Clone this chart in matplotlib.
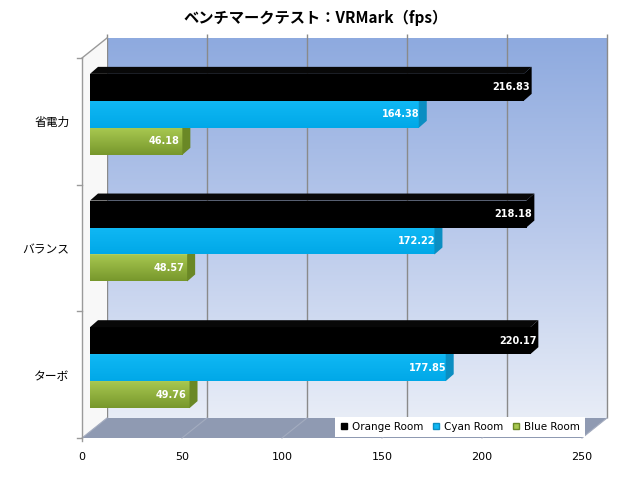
# coding=utf-8
import numpy as np
import matplotlib.pyplot as plt
from matplotlib.patches import Polygon
from matplotlib.lines import Line2D
from matplotlib.transforms import ScaledTranslation, IdentityTransform
from matplotlib.colors import LinearSegmentedColormap

# data (bottom to top in the plot)
categories = ['ターボ', 'バランス', '省電力']
series = ['Orange Room', 'Cyan Room', 'Blue Room']
orange_room = [220.17, 218.18, 216.83]
cyan_room = [177.85, 172.22, 164.38]
blue_room = [49.76, 48.57, 46.18]
xticks = [0, 50, 100, 150, 200, 250]

jp = ['Noto Sans CJK JP', 'DejaVu Sans']
plt.rcParams['font.family'] = ['DejaVu Sans']

fig = plt.figure(figsize=(6.2, 4.8), dpi=100)
ax = fig.add_axes([82/620, 42/480, 500/620, 380/480])
ax.patch.set_visible(False)
for s in ax.spines.values():
    s.set_visible(False)

XMAX = 250
YLO, YHI = -0.5, 2.5
BACK = (25, 20)      # depth of the box, px
BAR_OFF = (8, 7)     # bar plane, px
BAR_D = (8, 7)       # depth of each bar, px
h = 0.213

def shift(dx, dy):
    return ax.transData + ScaledTranslation(dx/fig.dpi, dy/fig.dpi, fig.dpi_scale_trans)

ax.set_xlim(0, XMAX)
ax.set_ylim(YLO, YHI)

def pt(x, y, dx=0, dy=0):
    px, py = ax.transData.transform((x, y))
    return (px + dx, py + dy)

def poly(pts, **kw):
    p = Polygon(pts, closed=True, transform=IdentityTransform(), clip_on=False, **kw)
    ax.add_patch(p)
    return p

def line(p0, p1, **kw):
    ax.add_line(Line2D([p0[0], p1[0]], [p0[1], p1[1]], transform=IdentityTransform(),
                       clip_on=False, **kw))

# back wall
back = shift(*BACK)
wall_cmap = LinearSegmentedColormap.from_list('wall', ['#e8edf7', '#b9c9eb', '#8eaadf'])
grad = np.linspace(0, 1, 256).reshape(-1, 1)
ax.imshow(grad, extent=(0, XMAX, YLO, YHI), origin='lower', aspect='auto', cmap=wall_cmap,
          transform=back, clip_on=False, zorder=0, interpolation='bilinear')
ax.vlines(xticks, YLO, YHI + 0.035, colors='#8a8a8a', lw=1, transform=back, clip_on=False, zorder=1)

# side wall
poly([pt(0, YLO), pt(0, YHI), pt(0, YHI, *BACK), pt(0, YLO, *BACK)],
     facecolor='#f8f8f8', edgecolor='none', zorder=1)
line(pt(0, YLO, 0, -3), pt(0, YHI), color='#9a9a9a', lw=1, zorder=2)
line(pt(0, YHI), pt(0, YHI, *BACK), color='#9a9a9a', lw=1, zorder=2)
for b in [-0.5, 0.5, 1.5, 2.5]:
    line(pt(0, b, -5, 0), pt(0, b), color='#9a9a9a', lw=1, zorder=2)

# floor
poly([pt(0, YLO), pt(XMAX, YLO), pt(XMAX, YLO, *BACK), pt(0, YLO, *BACK)],
     facecolor='#8f9ab2', edgecolor='none', zorder=1)
for x in xticks:
    line(pt(x, YLO), pt(x, YLO, *BACK), color='#a4acbf', lw=0.8, zorder=1.5)

# bars
bar_tr = shift(*BAR_OFF)
ypos = np.arange(len(categories))
styles = [
    # values, offset, front top, front bottom, top face, side face, label shift
    (blue_room, -h, '#a8c850', '#77972c', '#b9d66c', '#6a8826', -3),
    (cyan_room, 0.0, '#10b8f4', '#00a8e8', '#45c8f6', '#0b8ec2', 1),
    (orange_room, h, '#000000', '#000000', '#080808', '#000000', 6),
]
for k, (vals, off, ctop, cbot, ctopface, cside, lab) in enumerate(styles):
    z = 3 + k
    ys = ypos + off
    ax.barh(ys, vals, height=h, color=cbot, transform=bar_tr, clip_on=False, zorder=z)
    cm = LinearSegmentedColormap.from_list('b%d' % k, [cbot, ctop])
    for y, v in zip(ys, vals):
        ax.imshow(grad, extent=(0, v, y - h/2, y + h/2), origin='lower', aspect='auto', cmap=cm,
                  transform=bar_tr, clip_on=False, zorder=z, interpolation='bilinear')
        ox, oy = BAR_OFF
        dx, dy = BAR_D
        poly([pt(0, y + h/2, ox, oy), pt(v, y + h/2, ox, oy),
              pt(v, y + h/2, ox + dx, oy + dy), pt(0, y + h/2, ox + dx, oy + dy)],
             facecolor=ctopface, edgecolor='none', zorder=z)
        poly([pt(v, y - h/2, ox, oy), pt(v, y + h/2, ox, oy),
              pt(v, y + h/2, ox + dx, oy + dy), pt(v, y - h/2, ox + dx, oy + dy)],
             facecolor=cside, edgecolor='none', zorder=z)
        ax.text(v, y, '%.2f' % v, transform=shift(ox + lab, oy), ha='right', va='center',
                color='white', fontweight='bold', fontsize=7, zorder=z + 0.5)

ax.set_xlim(0, XMAX)
ax.set_ylim(YLO, YHI)

ax.set_xticks(xticks)
ax.set_xticklabels([str(t) for t in xticks], fontsize=8)
ax.set_yticks(ypos)
ax.set_yticklabels(categories, fontsize=8.5, fontfamily=jp)
ax.tick_params(axis='x', length=0, pad=10)
ax.tick_params(axis='y', length=0, pad=9)

# legend
handles = [Line2D([], [], ls='none', marker='s', markersize=5, color=c, markeredgecolor=e)
           for c, e in [('#000000', '#000000'), ('#10b8f4', '#0b8ec2'), ('#a8c850', '#6a8826')]]
leg = fig.legend(handles, series, loc='lower right', bbox_to_anchor=(585/620, 43/480),
                 ncol=3, fontsize=7.5, frameon=True, fancybox=False, edgecolor='none',
                 handlelength=0.7, handletextpad=0.4, columnspacing=0.9, borderpad=0.5,
                 borderaxespad=0)
leg.get_frame().set_facecolor('white')
leg.get_frame().set_alpha(1)
leg.set_zorder(10)

fig.text(316/620, 1 - 18/480, 'ベンチマークテスト：VRMark（fps）', fontsize=11,
         fontweight='bold', family=jp, ha='center', va='center')

plt.savefig('out.png', dpi=100)
